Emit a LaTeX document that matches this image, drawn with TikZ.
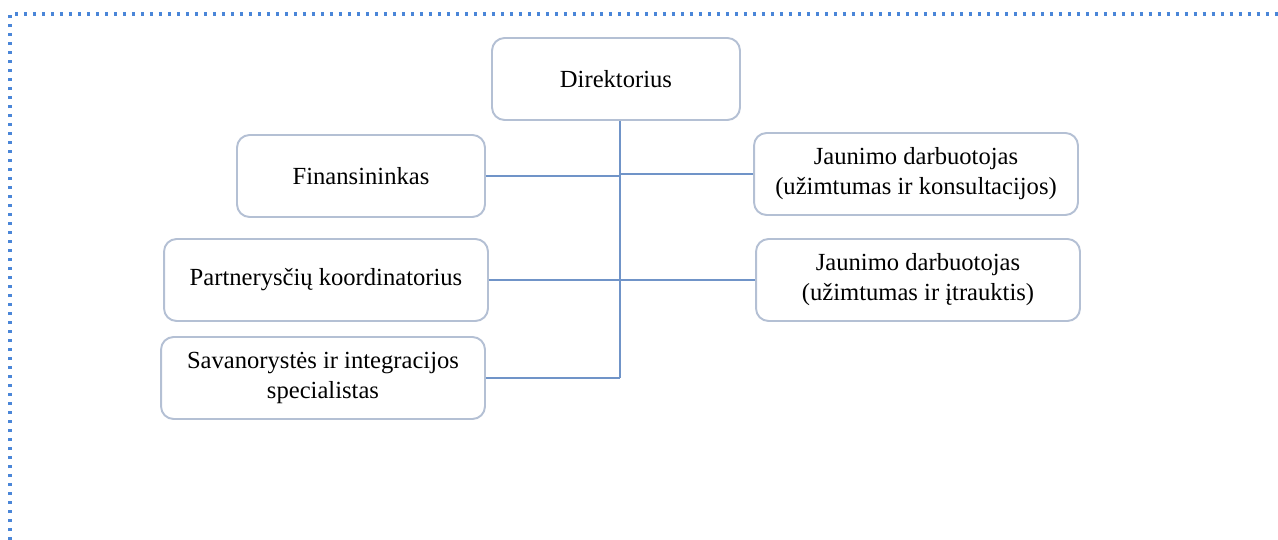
\documentclass[tikz,border=0pt]{standalone}
\usepackage{fontspec}
\setmainfont{Liberation Serif}
\usepackage{tikz}
\usetikzlibrary{calc}
\definecolor{frameblue}{HTML}{4A86D8}
\definecolor{boxline}{HTML}{B4C0D4}
\definecolor{linkline}{HTML}{7094C8}
\tikzset{
    orgbox/.style={draw=boxline, line width=1.1pt, rounded corners=0.25cm,
        minimum height=1.64cm, align=center, font=\fontsize{14}{17}\selectfont},
    narrowbox/.style={orgbox, minimum width=4.96cm},
    widebox/.style={orgbox, minimum width=6.48cm},
    link/.style={draw=linkline, line width=0.6pt}
}

\begin{document}
\begin{tikzpicture}[x=0.02cm,y=-0.02cm]
    \useasboundingbox (0,0) rectangle (1278,540);
    % dotted frame
    \draw[frameblue, line width=2.2pt, dash pattern=on 0.07cm off 0.11cm]
        (10,540) -- (10,14) -- (1278,14);
    % boxes
    \node[narrowbox] (dir) at (616,79) {Direktorius};
    \node[narrowbox] (fin) at (361,176) {Finansininkas};
    \node[widebox] (par) at (326,280) {Partnerysčių koordinatorius};
    \node[widebox] (sav) at (323,378) {Savanorystės ir integracijos\\specialistas};
    \node[widebox] (jd1) at (916,174) {Jaunimo darbuotojas\\(užimtumas ir konsultacijos)};
    \node[widebox] (jd2) at (918,280) {Jaunimo darbuotojas\\(užimtumas ir įtrauktis)};
    % links
    \coordinate (trunk) at ($(dir.south)+(4,0)$);
    \coordinate (foot) at (trunk |- sav.east);
    \draw[link] (trunk) -- (foot);
    \draw[link] (sav.east) -- (foot);
    \draw[link] (fin.east) -- (fin.east -| trunk);
    \draw[link] (jd1.west) -- (jd1.west -| trunk);
    \draw[link] (par.east) -- (jd2.west);
\end{tikzpicture}
\end{document}
